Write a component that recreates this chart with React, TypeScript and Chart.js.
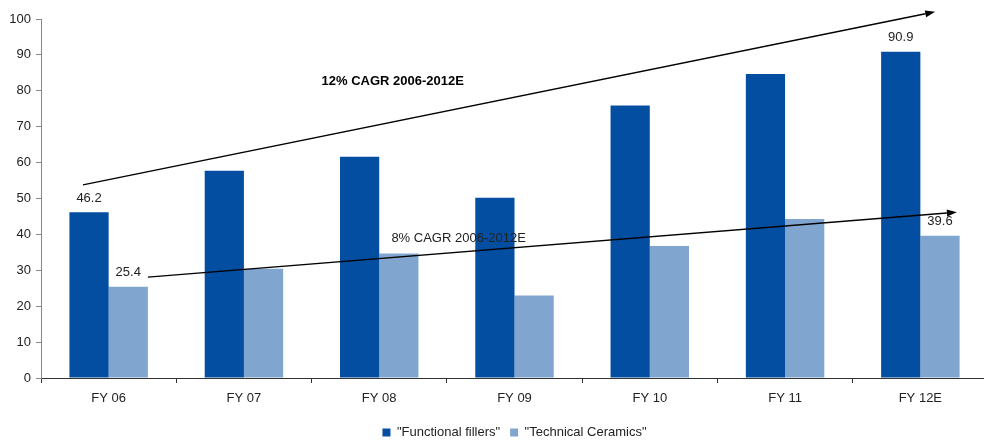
import React, { useEffect, useRef } from "react";
import { Chart, registerables } from "chart.js";

Chart.register(...registerables);

const categories = ["FY 06", "FY 07", "FY 08", "FY 09", "FY 10", "FY 11", "FY 12E"];
const functionalFillers = [46.2, 57.7, 61.6, 50.2, 75.9, 84.7, 90.9];
const technicalCeramics = [25.4, 30.4, 34.7, 23.0, 36.8, 44.3, 39.6];
const seriesNames = ['"Functional fillers"', '"Technical Ceramics"'];
const labelledIndices = [0, 6];

// CAGR trend arrows, in data units (category index, value)
const cagrArrowStarts = [
  [-0.19, 53.8],
  [0.29, 28.1],
];
const cagrArrowEnds = [
  [6.11, 102.0],
  [6.27, 46.2],
];
const cagrTexts = ["12% CAGR 2006-2012E", "8% CAGR 2006-2012E"];
const cagrTextAnchors = [
  [2.1, 82.7],
  [2.09, 39.0],
];

const FONT = "'Liberation Sans', Arial, Helvetica, sans-serif";
const TEXT = "#222222";
const FS = 13;

const overlayPlugin = {
  id: "overlay",
  afterDatasetsDraw(chart: any) {
    const { ctx } = chart;
    const xs = chart.scales.x;
    const ys = chart.scales.y;
    ctx.save();
    // data labels
    ctx.font = `${FS}px ${FONT}`;
    ctx.fillStyle = TEXT;
    ctx.textAlign = "center";
    ctx.textBaseline = "middle";
    [functionalFillers, technicalCeramics].forEach((vals, di) => {
      const meta = chart.getDatasetMeta(di);
      labelledIndices.forEach((idx) => {
        const el = meta.data[idx];
        if (!el) return;
        ctx.fillText(vals[idx].toFixed(1), el.x, el.y - 14);
      });
    });
    // arrows
    ctx.strokeStyle = "#000";
    ctx.fillStyle = "#000";
    ctx.lineWidth = 1.4;
    cagrArrowStarts.forEach((s, i) => {
      const e = cagrArrowEnds[i];
      const x1 = xs.getPixelForValue(s[0]);
      const y1 = ys.getPixelForValue(s[1]);
      const x2 = xs.getPixelForValue(e[0]);
      const y2 = ys.getPixelForValue(e[1]);
      const ang = Math.atan2(y2 - y1, x2 - x1);
      const len = 10;
      const hw = 3.5;
      const bx = x2 - len * Math.cos(ang);
      const by = y2 - len * Math.sin(ang);
      ctx.beginPath();
      ctx.moveTo(x1, y1);
      ctx.lineTo(bx, by);
      ctx.stroke();
      ctx.beginPath();
      ctx.moveTo(x2, y2);
      ctx.lineTo(bx + hw * Math.sin(ang), by - hw * Math.cos(ang));
      ctx.lineTo(bx - hw * Math.sin(ang), by + hw * Math.cos(ang));
      ctx.closePath();
      ctx.fill();
    });
    // CAGR texts
    cagrTexts.forEach((t, i) => {
      const a = cagrTextAnchors[i];
      const x = xs.getPixelForValue(a[0]);
      const y = ys.getPixelForValue(a[1]);
      if (i === 0) {
        ctx.font = `bold ${FS}px ${FONT}`;
        ctx.textAlign = "center";
        ctx.fillStyle = "#000";
      } else {
        ctx.font = `${FS}px ${FONT}`;
        ctx.textAlign = "left";
        ctx.fillStyle = TEXT;
      }
      ctx.fillText(t, x, y);
    });
    ctx.restore();
  },
};

export default function App() {
  const ref = useRef<HTMLCanvasElement | null>(null);
  useEffect(() => {
    document.body.style.margin = "0";
    if (!ref.current) return;
    const chart = new Chart(ref.current, {
      type: "bar",
      data: {
        labels: categories,
        datasets: [
          {
            label: seriesNames[0],
            data: functionalFillers,
            backgroundColor: "#044EA2",
            categoryPercentage: 0.58,
            barPercentage: 1,
          },
          {
            label: seriesNames[1],
            data: technicalCeramics,
            backgroundColor: "#80A6CF",
            categoryPercentage: 0.58,
            barPercentage: 1,
          },
        ],
      },
      options: {
        animation: false,
        responsive: true,
        maintainAspectRatio: false,
        layout: { padding: { top: 19, left: 0, right: 0, bottom: 0 } },
        plugins: {
          legend: {
            position: "bottom",
            fullSize: false,
            labels: {
              boxWidth: 8,
              boxHeight: 8,
              padding: 10,
              color: TEXT,
              font: { family: FONT, size: FS },
            },
          },
          tooltip: { enabled: false },
        },
        scales: {
          x: {
            grid: {
              display: true,
              drawOnChartArea: false,
              tickLength: 5,
              color: "#333",
              offset: true,
            },
            border: { color: "#333", width: 1 },
            ticks: { color: TEXT, font: { family: FONT, size: FS }, padding: 8 },
            afterFit: (s: any) => {
              s.height = 38;
            },
          },
          y: {
            min: 0,
            max: 100,
            grid: { display: true, drawOnChartArea: false, tickLength: 5, color: "#888" },
            border: { color: "#888", width: 1 },
            ticks: { stepSize: 10, color: TEXT, font: { family: FONT, size: FS }, padding: 5 },
            afterFit: (s: any) => {
              s.width = 41;
            },
          },
        },
      },
      plugins: [overlayPlugin],
    });
    return () => chart.destroy();
  }, []);
  return (
    <div style={{ position: "fixed", left: 0, top: 0, width: 988, height: 449 }}>
      <canvas ref={ref} />
    </div>
  );
}
